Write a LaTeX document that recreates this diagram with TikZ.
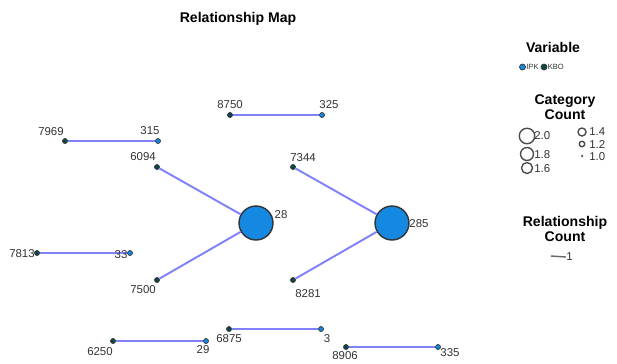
\documentclass[tikz,border=0pt]{standalone}
\usepackage{fontspec}
\setmainfont{Liberation Sans}
\definecolor{ipkblue}{RGB}{21,137,226}
\definecolor{kboteal}{RGB}{10,72,70}
\definecolor{relline}{RGB}{128,128,250}
\definecolor{txtgray}{RGB}{50,50,50}
\tikzset{
  kbo/.style={circle, draw=black!80, fill=kboteal, inner sep=0pt, minimum size=0.1cm},
  ipk/.style={circle, draw=black!80, fill=ipkblue, inner sep=0pt, minimum size=0.1cm},
  hub/.style={circle, draw=black!80, thick, fill=ipkblue, inner sep=0pt, minimum size=0.68cm},
  rel/.style={relline, line width=1.1pt},
  num/.style={text=txtgray, font=\fontsize{6.5}{7}\selectfont, inner sep=0pt},
  legtitle/.style={text=black, font=\fontsize{8}{8.5}\selectfont\bfseries, align=center, inner sep=0pt},
  catring/.style={circle, draw=black!70, thick, inner sep=0pt}
}
\begin{document}
\begin{tikzpicture}[x=0.02cm, y=-0.02cm]
  \useasboundingbox (0,0) rectangle (617,363);
  \node[legtitle] (title) at (238,19) {Relationship Map};

  % nodes
  \node[kbo] (n7969) at (65,141) {};
  \node[ipk] (n315) at (158,141) {};
  \node[kbo] (n8750) at (230,115) {};
  \node[ipk] (n325) at (322,115) {};
  \node[kbo] (n6094) at (157,167) {};
  \node[kbo] (n7500) at (157,280) {};
  \node[hub] (n28) at (256,223) {};
  \node[kbo] (n7813) at (37,253) {};
  \node[ipk] (n33) at (130,253) {};
  \node[kbo] (n7344) at (293,167) {};
  \node[kbo] (n8281) at (293,280) {};
  \node[hub] (n285) at (392,223) {};
  \node[kbo] (n6250) at (113,341) {};
  \node[ipk] (n29) at (206,341) {};
  \node[kbo] (n6875) at (229,329) {};
  \node[ipk] (n3) at (321,329) {};
  \node[kbo] (n8906) at (346,347) {};
  \node[ipk] (n335) at (438,347) {};

  % relationships
  \draw[rel] (n7969) -- (n315);
  \draw[rel] (n8750) -- (n325);
  \draw[rel] (n6094) -- (n28);
  \draw[rel] (n7500) -- (n28);
  \draw[rel] (n7813) -- (n33);
  \draw[rel] (n7344) -- (n285);
  \draw[rel] (n8281) -- (n285);
  \draw[rel] (n6250) -- (n29);
  \draw[rel] (n6875) -- (n3);
  \draw[rel] (n8906) -- (n335);

  % labels
  \node[num] (l7969) at (51,132) {7969};
  \node[num] (l315) at (150,131) {315};
  \node[num] (l8750) at (230,105) {8750};
  \node[num] (l325) at (329,105) {325};
  \node[num] (l6094) at (143,157) {6094};
  \node[num] (l28) at (281,215) {28};
  \node[num] (l7813) at (22,254) {7813};
  \node[num] (l33) at (121,255) {33};
  \node[num] (l7500) at (143,290) {7500};
  \node[num] (l7344) at (303,158) {7344};
  \node[num] (l285) at (419,224) {285};
  \node[num] (l8281) at (308,294) {8281};
  \node[num] (l6250) at (100,352) {6250};
  \node[num] (l29) at (203,350) {29};
  \node[num] (l6875) at (229,339) {6875};
  \node[num] (l3) at (327,339) {3};
  \node[num] (l8906) at (345,356) {8906};
  \node[num] (l335) at (450,353) {335};

  % legend: variable
  \node[legtitle] (varhead) at (553,47) {Variable};
  \node[circle, draw=black!80, fill=ipkblue, inner sep=0pt, minimum size=0.12cm] (kipk) at (522.5,67) {};
  \node[num, font=\fontsize{4.3}{5}\selectfont, anchor=west] (tipk) at (526,67) {IPK};
  \node[circle, draw=black!80, fill=kboteal, inner sep=0pt, minimum size=0.12cm] (kkbo) at (544,67) {};
  \node[num, font=\fontsize{4.3}{5}\selectfont, anchor=west] (tkbo) at (547.5,67) {KBO};

  % legend: category count
  \node[legtitle] (cathead) at (565,107) {Category\\Count};
  \node[catring, minimum size=0.31cm] (c20) at (527,136) {};
  \node[num, anchor=west] (t20) at (534,136) {2.0};
  \node[catring, minimum size=0.26cm] (c18) at (527,154) {};
  \node[num, anchor=west] (t18) at (534,155) {1.8};
  \node[catring, minimum size=0.22cm] (c16) at (527,168) {};
  \node[num, anchor=west] (t16) at (534,169) {1.6};
  \node[catring, minimum size=0.16cm] (c14) at (582,132) {};
  \node[num, anchor=west] (t14) at (589,132) {1.4};
  \node[catring, minimum size=0.11cm] (c12) at (582,144) {};
  \node[num, anchor=west] (t12) at (589,145) {1.2};
  \node[circle, fill=black!70, inner sep=0pt, minimum size=0.05cm] (c10) at (582,156) {};
  \node[num, anchor=west] (t10) at (589,157) {1.0};

  % legend: relationship count
  \node[legtitle] (relhead) at (565,229) {Relationship\\Count};
  \coordinate (rs) at (551,256);
  \node[num, anchor=west] (t1) at (566,257) {1};
  \draw[black!60, line width=0.8pt] (rs) -- (t1.west);
\end{tikzpicture}
\end{document}
